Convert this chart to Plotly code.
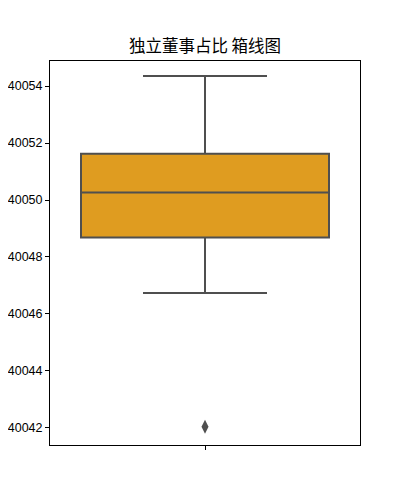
import plotly.graph_objects as go

categories = [""]
q1_vals = [40048.68]
median_vals = [40050.26]
q3_vals = [40051.62]
lower_fence = [40046.74]
upper_fence = [40054.35]
outliers = [40042.04]
y_ticks = [40042, 40044, 40046, 40048, 40050, 40052, 40054]

box_fill = "#DF9C20"
line_gray = "#4F4F4F"

fig = go.Figure()
fig.add_trace(go.Box(
    x=[0],
    q1=q1_vals, median=median_vals, q3=q3_vals,
    lowerfence=lower_fence, upperfence=upper_fence,
    width=0.8, whiskerwidth=0.5,
    fillcolor=box_fill,
    line=dict(color=line_gray, width=2),
    boxpoints=False,
    hoverinfo="skip",
    showlegend=False,
))
fig.add_trace(go.Scatter(
    x=[0] * len(outliers), y=outliers, mode="markers",
    marker=dict(symbol="diamond-tall", size=10, color=line_gray,
                line=dict(width=0)),
    showlegend=False, hoverinfo="skip",
))

fig.update_layout(
    width=400, height=500,
    margin=dict(l=42, r=48, t=53, b=63),
    paper_bgcolor="white", plot_bgcolor="white",
    title=dict(text="独立董事占比 箱线图", x=(205 - 8) / 400, xanchor="center",
               y=1 - (46 - 8) / 500, yanchor="middle",
               font=dict(family="Noto Sans CJK SC", size=16.5, color="black")),
    font=dict(family="Liberation Sans, Arial", size=12.5, color="black"),
    xaxis=dict(range=[-0.5, 0.5], tickvals=[0], ticktext=categories,
               ticks="outside", ticklen=4, tickcolor="black",
               showline=True, linecolor="black", linewidth=1, mirror=True,
               showgrid=False, zeroline=False, fixedrange=True,
               automargin=False),
    yaxis=dict(range=[40041.4, 40054.88], tickvals=y_ticks,
               ticktext=[str(v) for v in y_ticks],
               ticks="outside", ticklen=4, tickcolor="black",
               showline=True, linecolor="black", linewidth=1, mirror=True,
               showgrid=False, zeroline=False, automargin=False,
               tickfont=dict(size=12.5, color="black")),
)

fig.write_html("out.html")
